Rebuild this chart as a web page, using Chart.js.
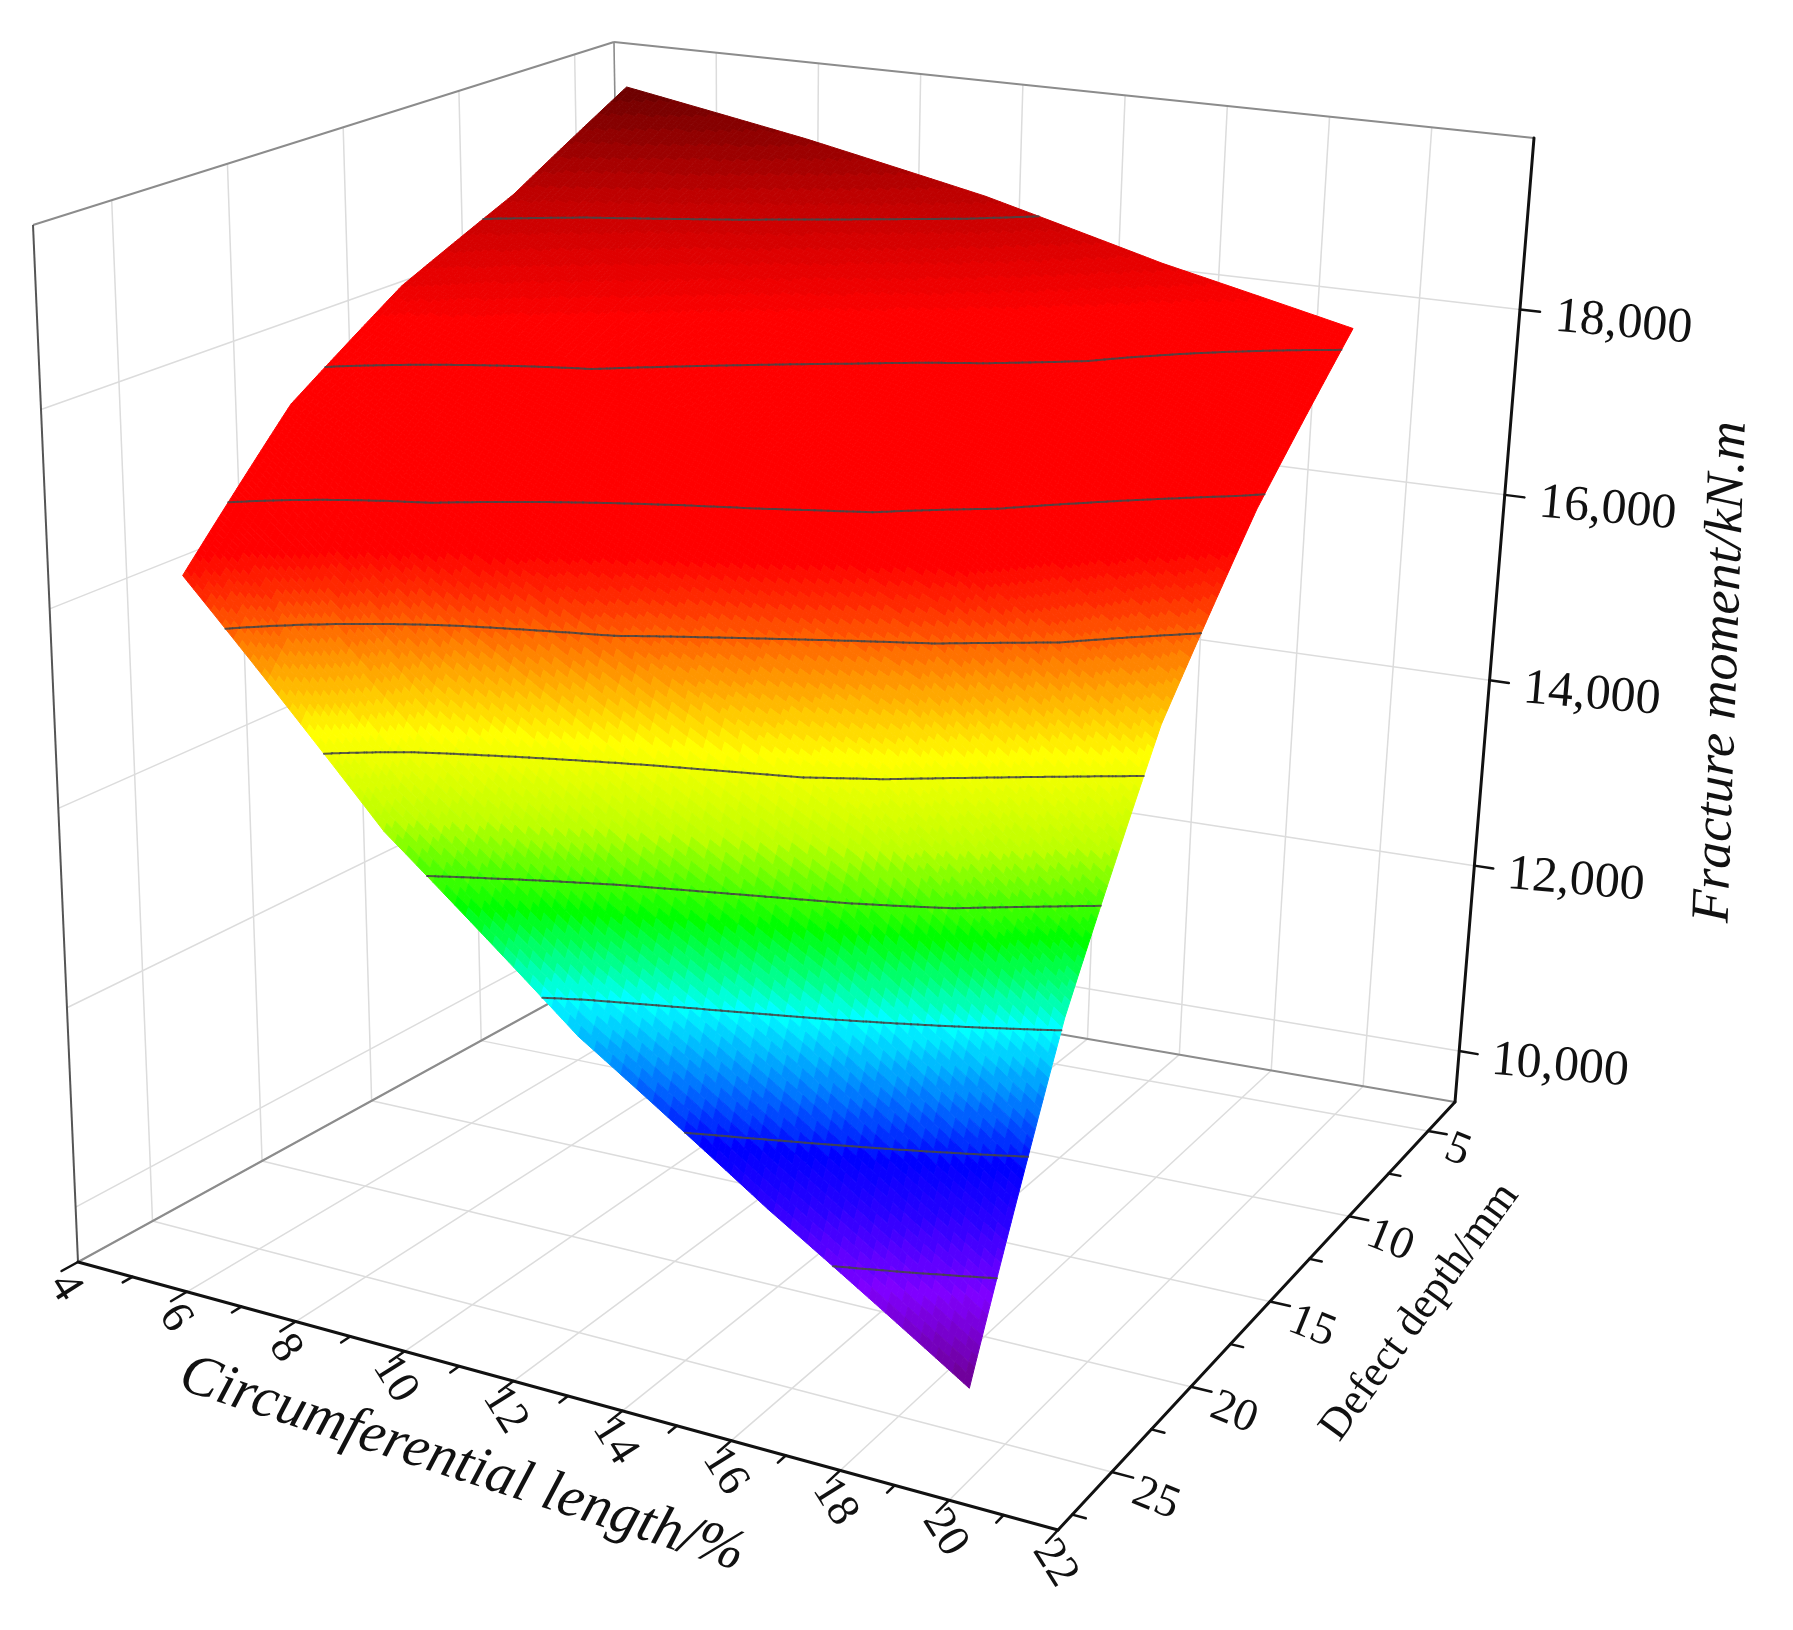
<!DOCTYPE html>
<html>
<head>
<meta charset="utf-8">
<script src="https://cdn.jsdelivr.net/npm/chart.js@4.4.1/dist/chart.umd.min.js"></script>
<style>
  html, body { margin: 0; padding: 0; background: #fff; }
  #wrap { width: 1793px; height: 1630px; }
</style>
</head>
<body>
<div id="wrap"><canvas id="surf" width="1793" height="1630"></canvas></div>
<script>
// surface samples
const lengths = [5, 8.5, 12, 15.5, 19.3];    // circumferential length, %
const depths = [5, 10, 15, 20, 25];          // defect depth, mm
const moment5 = [19550, 19200, 18800, 18300, 17850];
const moment10 = [18800, 18400, 17950, 17500, 16600];
const moment15 = [18250, 17700, 17100, 16300, 15050];
const moment20 = [17450, 16400, 15350, 14300, 12800];
const moment25 = [16150, 14000, 12400, 11150, 9900];
const moments = [moment5, moment10, moment15, moment20, moment25];

const lengthTicks = [4, 6, 8, 10, 12, 14, 16, 18, 20, 22];
const depthTicks = [5, 10, 15, 20, 25];
const momentTicks = [10000, 12000, 14000, 16000, 18000];
const contourLevels = [10750, 11700, 12700, 13650, 14650, 15700, 16700, 17700, 18650];

// axis ranges
const lenMin = 4, lenMax = 22;
const depMin = 3.3, depMax = 28.4;
const zMin = 9450, zMax = 19850;

// screen corners of the 3D box (b = back, f = front, l = left, r = right; 0 floor, 1 top)
const box = {
  bl0: [628, 960], br0: [1455, 1102], fl0: [78, 1262], fr0: [1058, 1530],
  bl1: [614, 42], br1: [1534, 138], fl1: [33, 225], fr1: [1100, 440]
};

const colorStops = [
  [9900, [110, 0, 140]], [10600, [127, 0, 255]], [11200, [40, 0, 255]],
  [11600, [0, 0, 255]], [12100, [0, 120, 255]], [12700, [0, 255, 255]],
  [13000, [0, 255, 140]], [13400, [0, 255, 0]], [14100, [190, 255, 0]],
  [14800, [255, 255, 0]], [15400, [255, 150, 0]], [16000, [255, 40, 0]],
  [16300, [255, 0, 0]], [18000, [255, 0, 0]], [18800, [190, 0, 0]], [19600, [100, 0, 0]]
];

function colorFor(z) {
  z = Math.round(z / 100) * 100;
  if (z <= colorStops[0][0]) return 'rgb(' + colorStops[0][1] + ')';
  for (let i = 1; i < colorStops.length; i++) {
    if (z <= colorStops[i][0]) {
      let a = colorStops[i - 1], b = colorStops[i];
      let t = (z - a[0]) / (b[0] - a[0]);
      let c = a[1].map((v, k) => Math.round(v + (b[1][k] - v) * t));
      return 'rgb(' + c + ')';
    }
  }
  return 'rgb(' + colorStops[colorStops.length - 1][1] + ')';
}

function lerp(a, b, t) { return [a[0] + (b[0] - a[0]) * t, a[1] + (b[1] - a[1]) * t]; }

// length, depth, moment -> screen value pair, then through the chart scales
function project(chart, len, dep, z) {
  let u = (len - lenMin) / (lenMax - lenMin);
  let v = (dep - depMin) / (depMax - depMin);
  let w = (z - zMin) / (zMax - zMin);
  let b0 = lerp(lerp(box.bl0, box.br0, u), lerp(box.fl0, box.fr0, u), v);
  let b1 = lerp(lerp(box.bl1, box.br1, u), lerp(box.fl1, box.fr1, u), v);
  let p = lerp(b0, b1, w);
  return [chart.scales.x.getPixelForValue(p[0]), chart.scales.y.getPixelForValue(p[1])];
}

function momentAt(i, j, s, t) {
  let a = moments[j][i], b = moments[j][i + 1], c = moments[j + 1][i], d = moments[j + 1][i + 1];
  return a * (1 - s) * (1 - t) + b * s * (1 - t) + c * (1 - s) * t + d * s * t;
}

function line(ctx, p, q, color, width) {
  ctx.strokeStyle = color; ctx.lineWidth = width;
  ctx.beginPath(); ctx.moveTo(p[0], p[1]); ctx.lineTo(q[0], q[1]); ctx.stroke();
}

function text(ctx, str, p, angle, font, align) {
  ctx.save();
  ctx.translate(p[0], p[1]);
  ctx.rotate(angle * Math.PI / 180);
  ctx.font = font; ctx.fillStyle = '#111';
  ctx.textAlign = align || 'center'; ctx.textBaseline = 'middle';
  ctx.fillText(str, 0, 0);
  ctx.restore();
}

const surfacePlugin = {
  id: 'surface3d',
  beforeDatasetsDraw(chart) {
    const ctx = chart.ctx;
    const P = (l, d, z) => project(chart, l, d, z);
    const grid = '#dcdcdc';

    // walls and floor grid
    for (let l of lengthTicks) {
      line(ctx, P(l, depMin, zMin), P(l, depMin, zMax), grid, 1.5);
      line(ctx, P(l, depMin, zMin), P(l, depMax, zMin), grid, 1.5);
    }
    for (let d of depthTicks) {
      line(ctx, P(lenMin, d, zMin), P(lenMin, d, zMax), grid, 1.5);
      line(ctx, P(lenMin, d, zMin), P(lenMax, d, zMin), grid, 1.5);
    }
    for (let z of momentTicks) {
      line(ctx, P(lenMin, depMax, z), P(lenMin, depMin, z), grid, 1.5);
      line(ctx, P(lenMin, depMin, z), P(lenMax, depMin, z), grid, 1.5);
    }
    const edge = '#8c8c8c';
    line(ctx, P(lenMin, depMax, zMax), P(lenMin, depMin, zMax), edge, 2);
    line(ctx, P(lenMin, depMin, zMax), P(lenMax, depMin, zMax), edge, 2);
    line(ctx, P(lenMin, depMin, zMin), P(lenMin, depMin, zMax), edge, 1.5);
    line(ctx, P(lenMin, depMax, zMin), P(lenMin, depMax, zMax), '#555', 2);
    line(ctx, P(lenMin, depMin, zMin), P(lenMin, depMax, zMin), edge, 2);
    line(ctx, P(lenMin, depMin, zMin), P(lenMax, depMin, zMin), edge, 2);

    // surface, drawn back to front
    const n = 36;
    for (let j = 0; j < depths.length - 1; j++) {
      for (let tj = 0; tj < n; tj++) {
        for (let i = 0; i < lengths.length - 1; i++) {
          for (let si = 0; si < n; si++) {
            let s0 = si / n, s1 = (si + 1) / n, t0 = tj / n, t1 = (tj + 1) / n;
            let l0 = lengths[i] + (lengths[i + 1] - lengths[i]) * s0;
            let l1 = lengths[i] + (lengths[i + 1] - lengths[i]) * s1;
            let d0 = depths[j] + (depths[j + 1] - depths[j]) * t0;
            let d1 = depths[j] + (depths[j + 1] - depths[j]) * t1;
            let z00 = momentAt(i, j, s0, t0), z10 = momentAt(i, j, s1, t0);
            let z01 = momentAt(i, j, s0, t1), z11 = momentAt(i, j, s1, t1);
            let pts = [P(l0, d0, z00), P(l1, d0, z10), P(l1, d1, z11), P(l0, d1, z01)];
            let col = colorFor((z00 + z10 + z01 + z11) / 4);
            ctx.fillStyle = col; ctx.strokeStyle = col; ctx.lineWidth = 1;
            ctx.beginPath();
            pts.forEach((p, k) => k ? ctx.lineTo(p[0], p[1]) : ctx.moveTo(p[0], p[1]));
            ctx.closePath(); ctx.fill(); ctx.stroke();
          }
        }
      }
    }

    // contour lines
    ctx.lineCap = 'round';
    for (let lev of contourLevels) {
      for (let j = 0; j < depths.length - 1; j++) {
        for (let i = 0; i < lengths.length - 1; i++) {
          for (let tj = 0; tj < n; tj++) {
            for (let si = 0; si < n; si++) {
              let s0 = si / n, s1 = (si + 1) / n, t0 = tj / n, t1 = (tj + 1) / n;
              let c = [[s0, t0], [s1, t0], [s1, t1], [s0, t1]];
              let zs = c.map(q => momentAt(i, j, q[0], q[1]) + 0.01);
              let hits = [];
              for (let k = 0; k < 4; k++) {
                let a = zs[k], b = zs[(k + 1) % 4];
                if ((a >= lev) !== (b >= lev)) {
                  let f = (lev - a) / (b - a);
                  let q = lerp(c[k], c[(k + 1) % 4], f);
                  let l = lengths[i] + (lengths[i + 1] - lengths[i]) * q[0];
                  let d = depths[j] + (depths[j + 1] - depths[j]) * q[1];
                  hits.push(P(l, d, lev));
                }
              }
              if (hits.length >= 2) line(ctx, hits[0], hits[1], 'rgba(70,70,70,0.85)', 2);
            }
          }
        }
      }
    }

    // axes
    const ink = '#111';
    line(ctx, P(lenMin, depMax, zMin), P(lenMax, depMax, zMin), ink, 3);
    line(ctx, P(lenMax, depMax, zMin), P(lenMax, depMin, zMin), ink, 3);
    line(ctx, P(lenMax, depMin, zMin), P(lenMax, depMin, zMax), ink, 3);

    for (let l = lenMin; l <= lenMax; l++) {
      let major = l % 2 === 0;
      let a = P(l, depMax, zMin), b = P(l, depMax + (major ? 0.75 : 0.45), zMin);
      line(ctx, a, b, ink, 2.5);
      if (major) {
        let t = P(l + 0.4, depMax + 1.6, zMin);
        text(ctx, String(l), t, 58, '46px "Liberation Serif"');
      }
    }
    for (let d = 5; d <= 27.5; d += 2.5) {
      let major = d % 5 === 0;
      let a = P(lenMax, d, zMin), b = P(lenMax + (major ? 0.4 : 0.25), d, zMin);
      line(ctx, a, b, ink, 2.5);
      if (major) {
        let t = P(lenMax + 0.6, d + 0.6, zMin);
        text(ctx, String(d), t, 22, '46px "Liberation Serif"', 'left');
      }
    }
    for (let z of momentTicks) {
      let a = P(lenMax, depMin, z), b = P(lenMax + 0.4, depMin, z);
      line(ctx, a, b, ink, 2.5);
      let t = P(lenMax + 0.7, depMin, z);
      text(ctx, z.toLocaleString('en-US'), [t[0], t[1] + 4], 5, '50px "Liberation Serif"', 'left');
    }

    // axis titles
    text(ctx, 'Circumferential length/%', [462, 1465], 18, 'italic 58px "Liberation Serif"');
    text(ctx, 'Defect depth/mm', [1420, 1312], -54, '44px "Liberation Serif"');
    text(ctx, 'Fracture moment/kN.m', [1722, 672], -88, 'italic 54px "Liberation Serif"');
  }
};

new Chart(document.getElementById('surf'), {
  type: 'scatter',
  data: { datasets: [{ data: [], pointRadius: 0 }] },
  options: {
    responsive: false,
    animation: false,
    devicePixelRatio: 1,
    layout: { padding: 0 },
    plugins: { legend: { display: false }, tooltip: { enabled: false } },
    scales: {
      x: { type: 'linear', min: 0, max: 1793, display: false },
      y: { type: 'linear', min: 0, max: 1630, reverse: true, display: false }
    }
  },
  plugins: [surfacePlugin]
});
</script>
</body>
</html>
